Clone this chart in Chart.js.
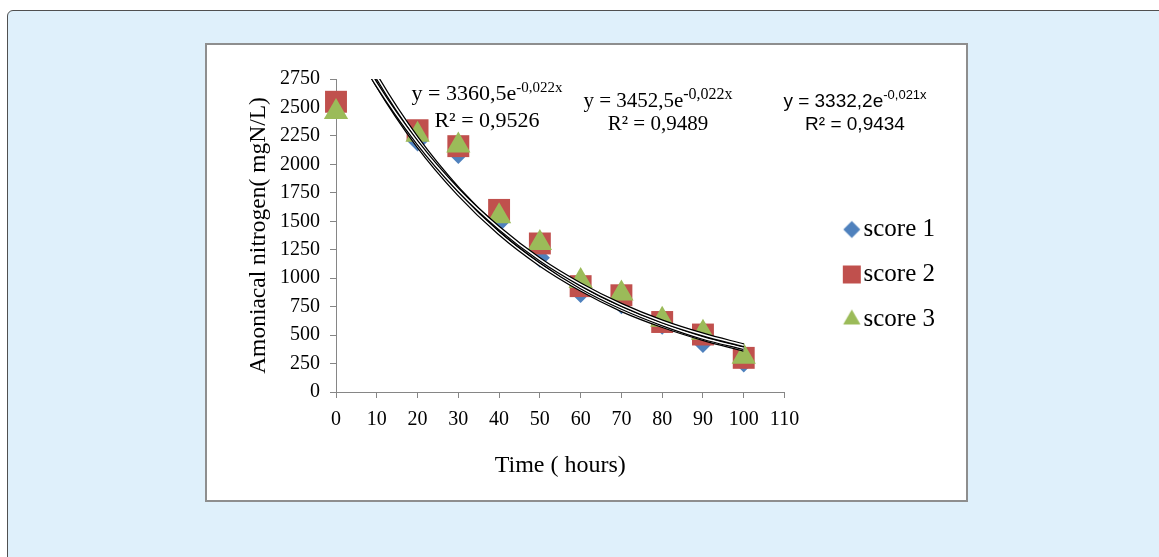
<!DOCTYPE html>
<html>
<head>
<meta charset="utf-8">
<script src="https://cdn.jsdelivr.net/npm/chart.js@4.4.1/dist/chart.umd.min.js"></script>
<style>
  body { margin: 0; background: #fff; width: 1159px; height: 557px; overflow: hidden; position: relative; }
  #panel { position: absolute; left: 7px; top: 10px; width: 1200px; height: 600px; background: #dff0fb; border: 1px solid #505050; border-radius: 6px; }
  #box { position: absolute; left: 205px; top: 43px; width: 759px; height: 455px; background: #fff; border: 2px solid #8e8e8e; }
  #myChart { display: block; }
</style>
</head>
<body>
<div id="panel"></div>
<div id="box"><canvas id="myChart" width="759" height="455"></canvas></div>
<script>
// measured points (hours -> mgN/L)
var hours = [0, 20, 30, 40, 50, 60, 70, 80, 90, 100];
var score1 = [2500, 2200, 2090, 1490, 1180, 870, 770, 590, 430, 260];
var score2 = [2550, 2300, 2160, 1600, 1305, 930, 850, 615, 505, 300];
var score3 = [2460, 2260, 2165, 1545, 1310, 975, 865, 635, 520, 310];

// exponential trend lines
var trendHours = [0, 10, 20, 30, 40, 50, 60, 70, 80, 90, 100];
var trend1 = [3360, 2700, 2165, 1740, 1395, 1120, 900, 720, 580, 465, 370];
var trend2 = [3450, 2770, 2225, 1785, 1430, 1150, 920, 740, 595, 475, 385];
var trend3 = [3330, 2700, 2190, 1775, 1440, 1165, 945, 765, 620, 505, 410];

var xTicks = [0, 10, 20, 30, 40, 50, 60, 70, 80, 90, 100, 110];
var yTicks = [0, 250, 500, 750, 1000, 1250, 1500, 1750, 2000, 2250, 2500, 2750];

var seriesNames = ['score 1', 'score 2', 'score 3'];
var eqMain = ['y = 3360,5e', 'y = 3452,5e', 'y = 3332,2e'];
var eqExp = ['-0,022x', '-0,022x', '-0,021x'];
var eqR2 = ['R\u00b2 = 0,9526', 'R\u00b2 = 0,9489', 'R\u00b2 = 0,9434'];

var serif = "'Liberation Serif', 'Times New Roman', serif";
var colors = ['#4f81bd', '#c0504d', '#9bbb59'];

function pts(xs, ys) {
  return xs.map(function (x, i) { return { x: x, y: ys[i] }; });
}

// legend markers, drawn off screen so each can have its own size
function makeIcon(style, radius, color) {
  var c = document.createElement('canvas');
  c.width = 72; c.height = 30;
  var g = c.getContext('2d');
  g.fillStyle = color;
  Chart.helpers.drawPoint(g, { pointStyle: style, radius: radius, rotation: 0, borderWidth: 0 }, 60, 15);
  return c;
}
var legendIcons = [
  makeIcon('rectRot', 8.5, colors[0]),
  makeIcon('rect', 12.7, colors[1]),
  makeIcon('triangle', 10, colors[2])
];

// equation labels
var eqLayout = [
  { cx: 280, y1: 55, y2: 82, font: serif, size: 22, sup: 15 },
  { cx: 451, y1: 62, y2: 85, font: serif, size: 21, sup: 16 },
  { cx: 648, y1: 62, y2: 85, font: "'Liberation Sans', Arial, sans-serif", size: 19, sup: 13 }
];
var eqPlugin = {
  id: 'equations',
  afterDraw: function (chart) {
    var ctx = chart.ctx;
    ctx.save();
    ctx.fillStyle = '#000';
    ctx.textBaseline = 'alphabetic';
    eqLayout.forEach(function (l, i) {
      ctx.font = l.size + 'px ' + l.font;
      var w1 = ctx.measureText(eqMain[i]).width;
      ctx.font = l.sup + 'px ' + l.font;
      var w2 = ctx.measureText(eqExp[i]).width;
      var x0 = l.cx - (w1 + w2) / 2;
      ctx.textAlign = 'left';
      ctx.font = l.size + 'px ' + l.font;
      ctx.fillText(eqMain[i], x0, l.y1);
      ctx.font = l.sup + 'px ' + l.font;
      ctx.fillText(eqExp[i], x0 + w1, l.y1 - 8);
      ctx.textAlign = 'center';
      ctx.font = l.size + 'px ' + l.font;
      ctx.fillText(eqR2[i], l.cx, l.y2);
    });
    ctx.restore();
  }
};

function trendSet(data, color, width, order) {
  return {
    type: 'line', data: data, borderColor: color, borderWidth: width, pointRadius: 0,
    pointHoverRadius: 0, cubicInterpolationMode: 'monotone', fill: false, order: order
  };
}

function plain(v) { return String(v); }

var ctx = document.getElementById('myChart');
var myChart = new Chart(ctx, {
  type: 'scatter',
  data: {
    datasets: [
      { label: seriesNames[0], data: pts(hours, score1), pointStyle: 'rectRot', pointRadius: 10, pointHoverRadius: 10,
        backgroundColor: colors[0], borderColor: colors[0], borderWidth: 0, order: 9, clip: false },
      { label: seriesNames[1], data: pts(hours, score2), pointStyle: 'rect', pointRadius: 15.5, pointHoverRadius: 15.5,
        backgroundColor: colors[1], borderColor: colors[1], borderWidth: 0, order: 8, clip: false },
      { label: seriesNames[2], data: pts(hours, score3), pointStyle: 'triangle', pointRadius: 14, pointHoverRadius: 14,
        backgroundColor: colors[2], borderColor: colors[2], borderWidth: 0, order: 7, clip: false },
      trendSet(pts(trendHours, trend1), '#000', 4, 6),
      trendSet(pts(trendHours, trend1), '#fff', 1.5, 5),
      trendSet(pts(trendHours, trend2), '#000', 4, 4),
      trendSet(pts(trendHours, trend2), '#fff', 1.5, 3),
      trendSet(pts(trendHours, trend3), '#000', 4, 2),
      trendSet(pts(trendHours, trend3), '#fff', 1.5, 1)
    ]
  },
  options: {
    responsive: false,
    animation: false,
    layout: { padding: { top: 34, left: 0, bottom: 30, right: 21 } },
    plugins: {
      tooltip: { enabled: false },
      legend: {
        position: 'right',
        labels: {
          usePointStyle: true,
          pointStyleWidth: 46.5,
          padding: 20,
          color: '#000',
          font: { family: serif, size: 25 },
          generateLabels: function (chart) {
            var items = Chart.defaults.plugins.legend.labels.generateLabels(chart);
            return items.filter(function (it) { return it.datasetIndex < 3; })
              .sort(function (a, b) { return a.datasetIndex - b.datasetIndex; })
              .map(function (it) { it.pointStyle = legendIcons[it.datasetIndex]; return it; });
          }
        }
      }
    },
    scales: {
      x: {
        type: 'linear', min: 0, max: 110,
        afterBuildTicks: function (s) { s.ticks = xTicks.map(function (v) { return { value: v }; }); },
        afterFit: function (s) { s.height = 78; },
        grid: { drawOnChartArea: false, tickLength: 6, color: '#868686' },
        border: { color: '#868686', width: 1 },
        ticks: { color: '#000', font: { family: serif, size: 20 }, padding: 10, maxRotation: 0, autoSkip: false, callback: plain },
        title: { display: true, text: 'Time ( hours)', color: '#000', font: { family: serif, size: 24 }, padding: { top: 0, bottom: -10 } }
      },
      y: {
        type: 'linear', min: 0, max: 2750,
        afterBuildTicks: function (s) { s.ticks = yTicks.map(function (v) { return { value: v }; }); },
        afterFit: function (s) { s.width = 129; },
        grid: { drawOnChartArea: false, tickLength: 6, color: '#868686' },
        border: { color: '#868686', width: 1 },
        ticks: { color: '#000', font: { family: serif, size: 20 }, padding: 10, autoSkip: false, callback: plain },
        title: { display: true, text: 'Amoniacal nitrogen( mgN/L)', color: '#000', font: { family: serif, size: 23.5 }, padding: { top: 38, bottom: 0 } }
      }
    }
  },
  plugins: [eqPlugin]
});
</script>
</body>
</html>
